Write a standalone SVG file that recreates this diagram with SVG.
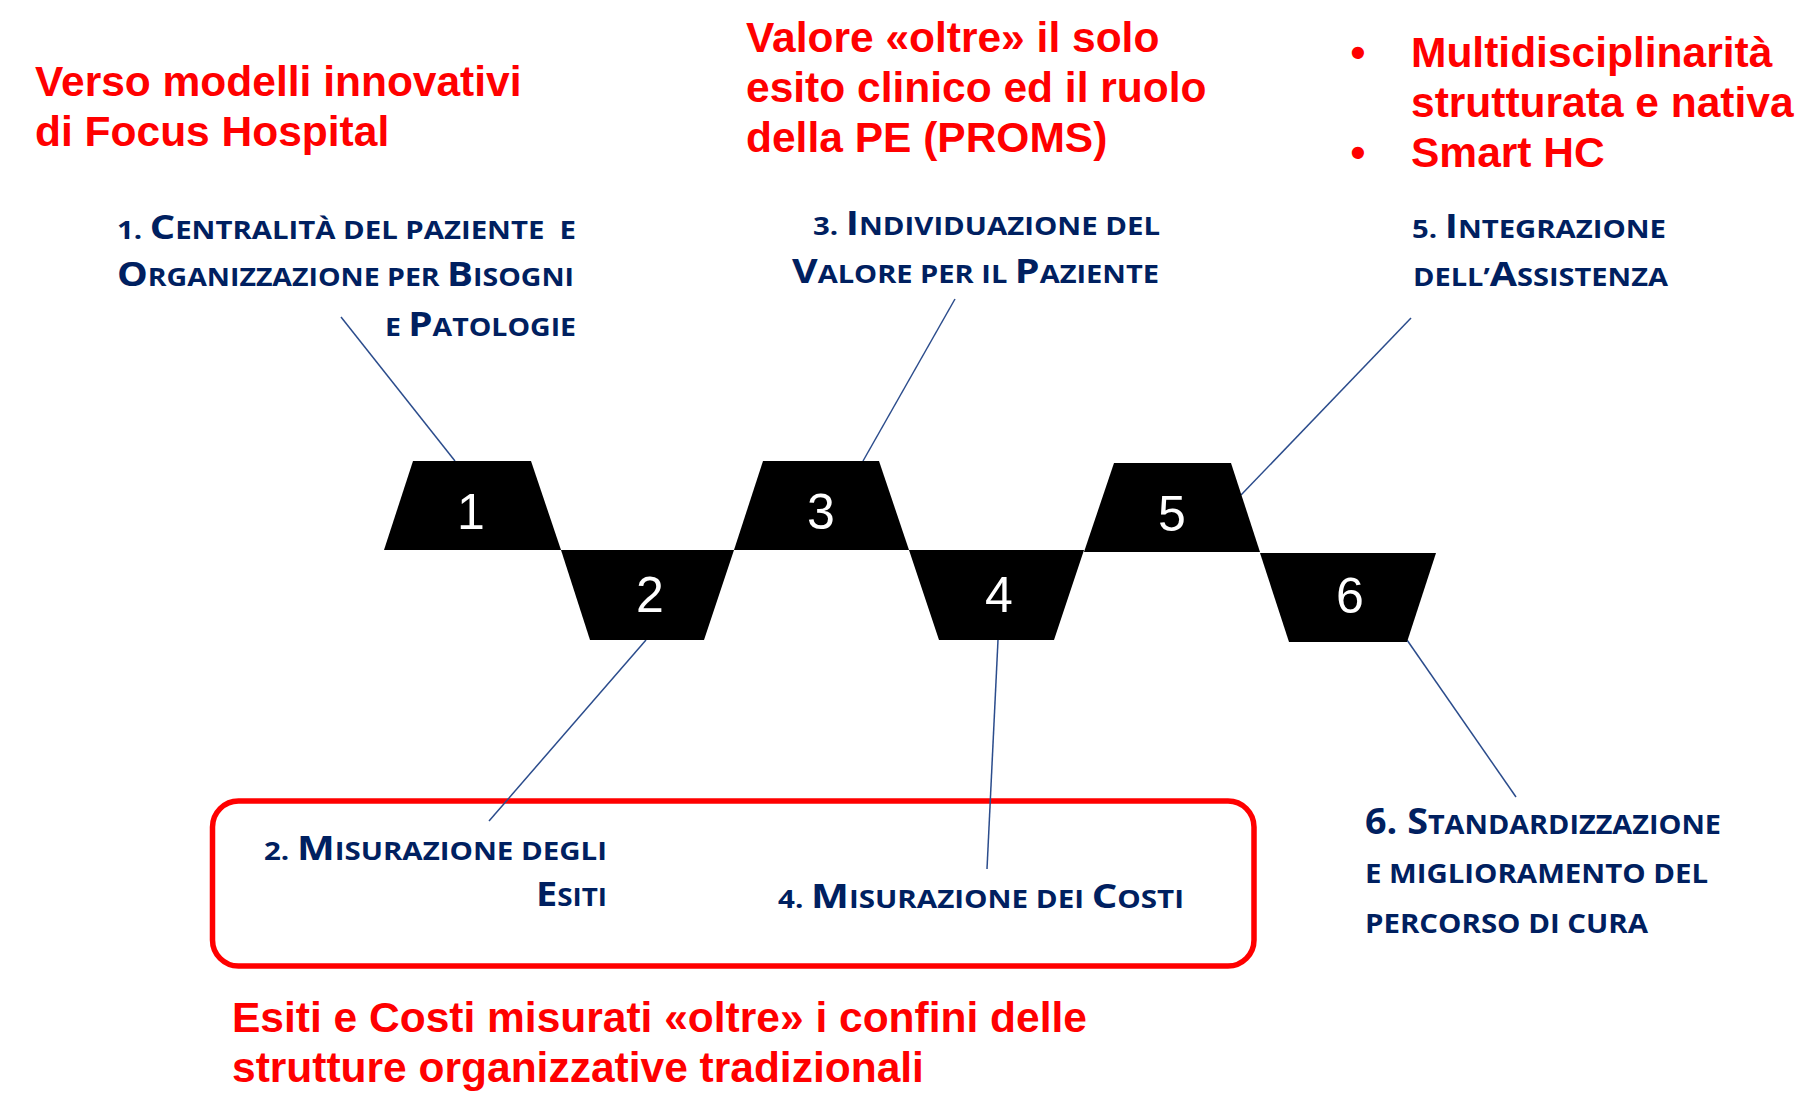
<svg xmlns="http://www.w3.org/2000/svg" width="1808" height="1093" viewBox="0 0 1808 1093">
<style>
.red{font-family:"Liberation Sans",Arial,sans-serif;font-weight:700;font-size:42.5px;fill:#FF0000}
.lab{font-family:"Open Sans","Noto Sans",sans-serif;font-weight:700;fill:#002060}
.L{font-size:34px}
.S{font-size:25px}
.L6{font-size:36px}
.S6{font-size:27.5px}
.shape{fill:#000000}
.num{font-family:"Liberation Sans",Arial,sans-serif;font-size:50px;fill:#FFFFFF;text-anchor:middle}
.conn{stroke:#2B4C8C;stroke-width:1.5;fill:none}
.box{fill:none;stroke:#FF0000;stroke-width:5.5}
</style>
<rect width="1808" height="1093" fill="#FFFFFF"/>

<g id="titles">
<text class="red" x="35" y="96">Verso modelli innovativi</text>
<text class="red" x="35" y="145.5">di Focus Hospital</text>
<text class="red" x="746" y="52">Valore «oltre» il solo</text>
<text class="red" x="746" y="102">esito clinico ed il ruolo</text>
<text class="red" x="746" y="152">della PE (PROMS)</text>
<text class="red" x="1358" y="67" text-anchor="middle">•</text>
<text class="red" x="1411" y="67">Multidisciplinarità</text>
<text class="red" x="1411" y="117">strutturata e nativa</text>
<text class="red" x="1358" y="167" text-anchor="middle">•</text>
<text class="red" x="1411" y="167">Smart HC</text>
<text class="red" x="232" y="1032">Esiti e Costi misurati «oltre» i confini delle</text>
<text class="red" x="232" y="1082">strutture organizzative tradizionali</text>
</g>

<g id="boundary">
<rect class="box" x="212.5" y="801" width="1041.5" height="165" rx="26" ry="26"/>
</g>

<g id="connectors">
<line class="conn" x1="341" y1="317" x2="455" y2="461"/>
<line class="conn" x1="955" y1="299" x2="863" y2="461"/>
<line class="conn" x1="1411" y1="318" x2="1241" y2="495"/>
<line class="conn" x1="646" y1="640" x2="489" y2="821"/>
<line class="conn" x1="998" y1="640" x2="987" y2="869"/>
<line class="conn" x1="1407" y1="640" x2="1516" y2="797"/>
</g>

<g id="step1">
<polygon class="shape" points="413,461 531,461 561,550 384,550"/>
<text class="num" x="471" y="529">1</text>
</g>
<g id="step2">
<polygon class="shape" points="561,550 734,550 704,640 590,640"/>
<text class="num" x="650" y="612">2</text>
</g>
<g id="step3">
<polygon class="shape" points="763,461 879,461 909,550 734,550"/>
<text class="num" x="821" y="529">3</text>
</g>
<g id="step4">
<polygon class="shape" points="909,550 1084,550 1054,640 939,640"/>
<text class="num" x="999" y="612">4</text>
</g>
<g id="step5">
<polygon class="shape" points="1114,463 1231,463 1260,552 1084,552"/>
<text class="num" x="1172" y="531">5</text>
</g>
<g id="step6">
<polygon class="shape" points="1260,553 1436,553 1407,642 1289,642"/>
<text class="num" x="1350" y="613">6</text>
</g>

<g id="label1">
<text class="lab" x="117" y="239" textLength="459" lengthAdjust="spacingAndGlyphs" style="white-space:pre"><tspan class="S">1. </tspan><tspan class="L">C</tspan><tspan class="S">ENTRALITÀ DEL PAZIENTE  E</tspan></text>
<text class="lab" x="117" y="286" textLength="457" lengthAdjust="spacingAndGlyphs"><tspan class="L">O</tspan><tspan class="S">RGANIZZAZIONE PER </tspan><tspan class="L">B</tspan><tspan class="S">ISOGNI</tspan></text>
<text class="lab" x="385" y="336" textLength="191" lengthAdjust="spacingAndGlyphs"><tspan class="S">E </tspan><tspan class="L">P</tspan><tspan class="S">ATOLOGIE</tspan></text>
</g>
<g id="label3">
<text class="lab" x="813" y="235" textLength="347" lengthAdjust="spacingAndGlyphs"><tspan class="S">3. </tspan><tspan class="L">I</tspan><tspan class="S">NDIVIDUAZIONE DEL</tspan></text>
<text class="lab" x="792" y="283" textLength="367" lengthAdjust="spacingAndGlyphs"><tspan class="L">V</tspan><tspan class="S">ALORE PER IL </tspan><tspan class="L">P</tspan><tspan class="S">AZIENTE</tspan></text>
</g>
<g id="label5">
<text class="lab" x="1412" y="238" textLength="254" lengthAdjust="spacingAndGlyphs"><tspan class="S">5. </tspan><tspan class="L">I</tspan><tspan class="S">NTEGRAZIONE</tspan></text>
<text class="lab" x="1413" y="286" textLength="255" lengthAdjust="spacingAndGlyphs"><tspan class="S">DELL’</tspan><tspan class="L">A</tspan><tspan class="S">SSISTENZA</tspan></text>
</g>
<g id="label2">
<text class="lab" x="264" y="860" textLength="343" lengthAdjust="spacingAndGlyphs"><tspan class="S">2. </tspan><tspan class="L">M</tspan><tspan class="S">ISURAZIONE DEGLI</tspan></text>
<text class="lab" x="536" y="906" textLength="71" lengthAdjust="spacingAndGlyphs"><tspan class="L">E</tspan><tspan class="S">SITI</tspan></text>
</g>
<g id="label4">
<text class="lab" x="778" y="908" textLength="406" lengthAdjust="spacingAndGlyphs"><tspan class="S">4. </tspan><tspan class="L">M</tspan><tspan class="S">ISURAZIONE DEI </tspan><tspan class="L">C</tspan><tspan class="S">OSTI</tspan></text>
</g>
<g id="label6">
<text class="lab" x="1365" y="834" textLength="356" lengthAdjust="spacingAndGlyphs"><tspan class="L6">6. S</tspan><tspan class="S6">TANDARDIZZAZIONE</tspan></text>
<text class="lab" x="1365" y="883" textLength="343" lengthAdjust="spacingAndGlyphs"><tspan class="S6">E MIGLIORAMENTO DEL</tspan></text>
<text class="lab" x="1365" y="933" textLength="283" lengthAdjust="spacingAndGlyphs"><tspan class="S6">PERCORSO DI CURA</tspan></text>
</g>
</svg>
